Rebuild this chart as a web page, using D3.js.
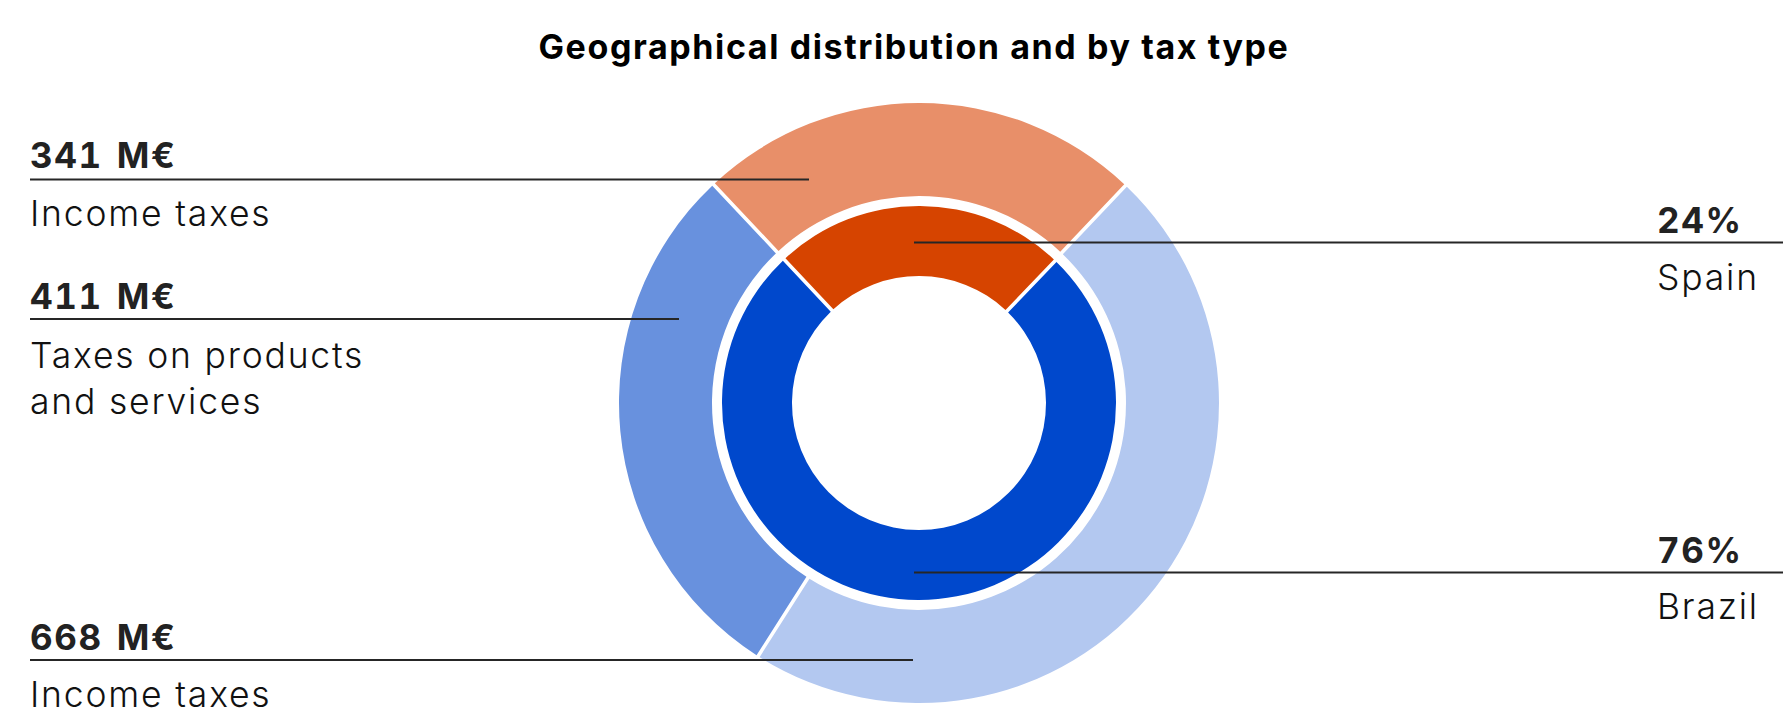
<!DOCTYPE html>
<html>
<head>
<meta charset="utf-8">
<script src="https://cdn.jsdelivr.net/npm/d3@7"></script>
<style>
  html, body { margin: 0; padding: 0; background: #ffffff; }
  svg { display: block; }
  text { font-family: Inter, "Noto Sans", sans-serif; }
  .value { font-variant-numeric: tabular-nums; }
</style>
</head>
<body>
<svg id="chart" width="1783" height="708"></svg>
<script>
// Tax contribution: inner ring by country, outer ring by country and tax type
const title = "Geographical distribution and by tax type";

const countries = ["Spain", "Brazil"];
const countryShares = [24, 76];               // %

const taxKeys   = ["Spain – Income taxes", "Brazil – Income taxes", "Brazil – Taxes on products and services"];
const taxLabels = [["Income taxes"], ["Income taxes"], ["Taxes on products", "and services"]];
const taxValues = [341, 668, 411];            // M€

const countryColors = ["#d64400", "#0048cc"];
const taxColors     = ["#e88f69", "#b3c8f0", "#6891de"];

const W = 1783, H = 708;
const cx = 919, cy = 403;
const outerR = [207, 300];
const innerR = [127, 197];

const svg = d3.select("#chart");

svg.append("text")
  .attr("x", 914).attr("y", 59)
  .attr("text-anchor", "middle")
  .attr("font-size", 34).attr("font-weight", 700)
  .attr("letter-spacing", 1.6)
  .attr("fill", "#000")
  .text(title);

const g = svg.append("g").attr("transform", `translate(${cx},${cy})`);

// Both rings start so that the Spain slice is centred on the top
const spainFrac = taxValues[0] / d3.sum(taxValues);
const start = -Math.PI * spainFrac;

const pieOuter = d3.pie().sort(null).value(d => d)
  .startAngle(start).endAngle(start + 2 * Math.PI).padAngle(0.018);
const pieInner = d3.pie().sort(null).value(d => d)
  .startAngle(-Math.PI * countryShares[0] / 100)
  .endAngle(-Math.PI * countryShares[0] / 100 + 2 * Math.PI).padAngle(0.018);

const arcOuter = d3.arc().innerRadius(outerR[0]).outerRadius(outerR[1]).padRadius(200);
const arcInner = d3.arc().innerRadius(innerR[0]).outerRadius(innerR[1]).padRadius(200);

g.selectAll("path.outer").data(pieOuter(taxValues)).join("path")
  .attr("class", "outer")
  .attr("d", arcOuter)
  .attr("fill", (d, i) => taxColors[i]);

g.selectAll("path.inner").data(pieInner(countryShares)).join("path")
  .attr("class", "inner")
  .attr("d", arcInner)
  .attr("fill", (d, i) => countryColors[i]);

// Leader lines and labels
const leftX = 30, rightX = 1657;
const lineColor = "#262626";

function valueText(x, y, str) {
  svg.append("text")
    .attr("class", "value")
    .attr("x", x).attr("y", y)
    .attr("font-size", 35).attr("font-weight", 700)
    .attr("letter-spacing", 1.6).attr("word-spacing", 3)
    .attr("fill", "#222")
    .text(str);
}

function labelText(x, y, str) {
  svg.append("text")
    .attr("x", x).attr("y", y)
    .attr("font-size", 35.5).attr("font-weight", 300)
    .attr("letter-spacing", 1.8)
    .attr("fill", "#111")
    .text(str);
}

const leftLabels = [
  { i: 0, valueY: 168, lineY: 179.5, lineEnd: 809, textY: 226 },
  { i: 2, valueY: 309, lineY: 319, lineEnd: 679, textY: 368 },
  { i: 1, valueY: 650, lineY: 660, lineEnd: 913, textY: 707 }
];

leftLabels.forEach(l => {
  svg.append("line")
    .attr("x1", leftX).attr("x2", l.lineEnd)
    .attr("y1", l.lineY).attr("y2", l.lineY)
    .attr("stroke", lineColor).attr("stroke-width", 2);
  valueText(leftX, l.valueY, `${taxValues[l.i]} M€`);
  taxLabels[l.i].forEach((t, k) => labelText(leftX, l.textY + k * 46, t));
});

const rightLabels = [
  { i: 0, valueY: 233, lineY: 242.5, lineStart: 914, textY: 290 },
  { i: 1, valueY: 563, lineY: 572.5, lineStart: 914, textY: 619 }
];

rightLabels.forEach(l => {
  svg.append("line")
    .attr("x1", l.lineStart).attr("x2", W)
    .attr("y1", l.lineY).attr("y2", l.lineY)
    .attr("stroke", lineColor).attr("stroke-width", 2);
  valueText(rightX, l.valueY, `${countryShares[l.i]}%`);
  labelText(rightX, l.textY, countries[l.i]);
});
</script>
</body>
</html>
